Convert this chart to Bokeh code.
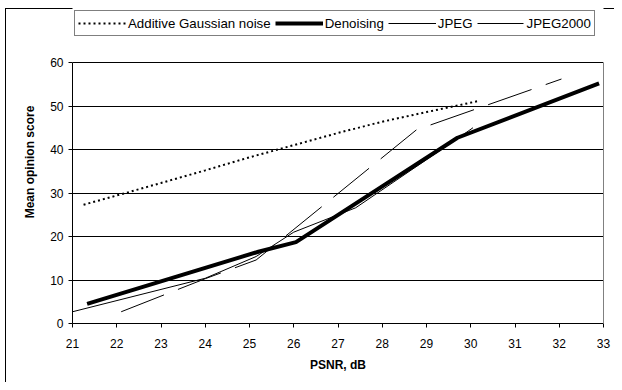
from bokeh.plotting import figure
from bokeh.models import Range1d, Legend, LegendItem, FixedTicker, LinearAxis
from bokeh.embed import file_html
from bokeh.resources import INLINE

# Data
agn_x = [21.25, 22.2, 23.0, 24.0, 25.0, 26.0, 27.0, 28.0, 29.0, 30.2]
agn_y = [27.3, 30.0, 32.3, 35.2, 38.2, 41.0, 43.8, 46.4, 48.6, 51.2]

den_x = [21.33, 25.2, 26.05, 29.7, 32.9]
den_y = [4.5, 16.5, 18.7, 42.7, 55.2]

jpeg_x = [21.0, 24.0, 25.15, 26.0, 27.4, 29.7, 30.05]
jpeg_y = [2.7, 10.4, 15.4, 21.0, 26.6, 42.5, 45.0]

j2k_x = [22.1, 24.0, 25.15, 28.77, 32.05]
j2k_y = [2.7, 10.3, 14.6, 44.5, 56.2]

x_ticks = list(range(21, 34))
y_ticks = [0, 10, 20, 30, 40, 50, 60]

FONT = "Liberation Sans"
Y_TOP = 60 + 62 / 4.35  # empty band above the plot area holds the legend

p = figure(width=614, height=382, output_backend="svg", toolbar_location=None,
           x_range=Range1d(21, 33), y_range=Range1d(0, Y_TOP),
           min_border_left=72, min_border_right=11, min_border_top=0, min_border_bottom=59)
p.background_fill_color = "white"
p.border_fill_color = "white"
p.border_fill_alpha = 0
p.outline_line_color = None
p.styles = {"box-shadow": "inset 5px 8px 0 0 white, inset 6px 9px 0 0 black"}

# axes
for ax in (p.xaxis[0], p.yaxis[0]):
    ax.axis_line_color = "black"
    ax.major_tick_line_color = "black"
    ax.major_tick_in = 0
    ax.major_tick_out = 4
    ax.minor_tick_line_color = None
    ax.major_label_text_font = FONT
    ax.major_label_text_font_size = "12px"
    ax.major_label_text_color = "black"
    ax.axis_label_text_font = FONT
    ax.axis_label_text_font_size = "12px"
    ax.axis_label_text_font_style = "bold"
    ax.axis_label_text_color = "black"

p.xaxis.ticker = FixedTicker(ticks=x_ticks)
p.yaxis.ticker = FixedTicker(ticks=y_ticks)
p.yaxis.bounds = (0, 60)
p.xaxis.axis_label = "PSNR, dB"
p.yaxis.axis_label = "Mean opinion score"
p.xaxis.major_label_standoff = 11
p.xaxis.axis_label_standoff = 7
p.yaxis.major_label_standoff = 5
p.yaxis.axis_label_standoff = 10

# right border of the plot area
rax = LinearAxis(ticker=FixedTicker(ticks=[]), bounds=(0, 60), axis_line_color="#808080",
                 major_label_text_font_size="0px", major_tick_line_color=None,
                 minor_tick_line_color=None, major_label_standoff=0)
p.add_layout(rax, "right")

p.xgrid.grid_line_color = None
p.ygrid.grid_line_color = "black"
p.ygrid.grid_line_width = 1

r_agn = p.line(agn_x, agn_y, line_color="black", line_width=2, line_dash="2 3")
r_den = p.line(den_x, den_y, line_color="black", line_width=4)
r_jpeg = p.line(jpeg_x, jpeg_y, line_color="black", line_width=1)
r_j2k = p.line(j2k_x, j2k_y, line_color="black", line_width=1, line_dash="46 15")

legend = Legend(items=[
    LegendItem(label="Additive Gaussian noise", renderers=[r_agn]),
    LegendItem(label="Denoising", renderers=[r_den]),
    LegendItem(label="JPEG", renderers=[r_jpeg]),
    LegendItem(label="JPEG2000", renderers=[r_j2k]),
], orientation="horizontal", location=(2, 287))
legend.label_text_font = FONT
legend.label_text_font_size = "13.3px"
legend.label_text_color = "black"
legend.border_line_color = "black"
legend.border_line_width = 1
legend.background_fill_color = "white"
legend.background_fill_alpha = 1
legend.padding = 3
legend.spacing = 4
legend.glyph_width = 48
legend.glyph_height = 18
legend.label_height = 18
legend.label_standoff = 2
legend.margin = 0
p.add_layout(legend, "center")

open("out.html", "w").write(file_html(p, INLINE))
